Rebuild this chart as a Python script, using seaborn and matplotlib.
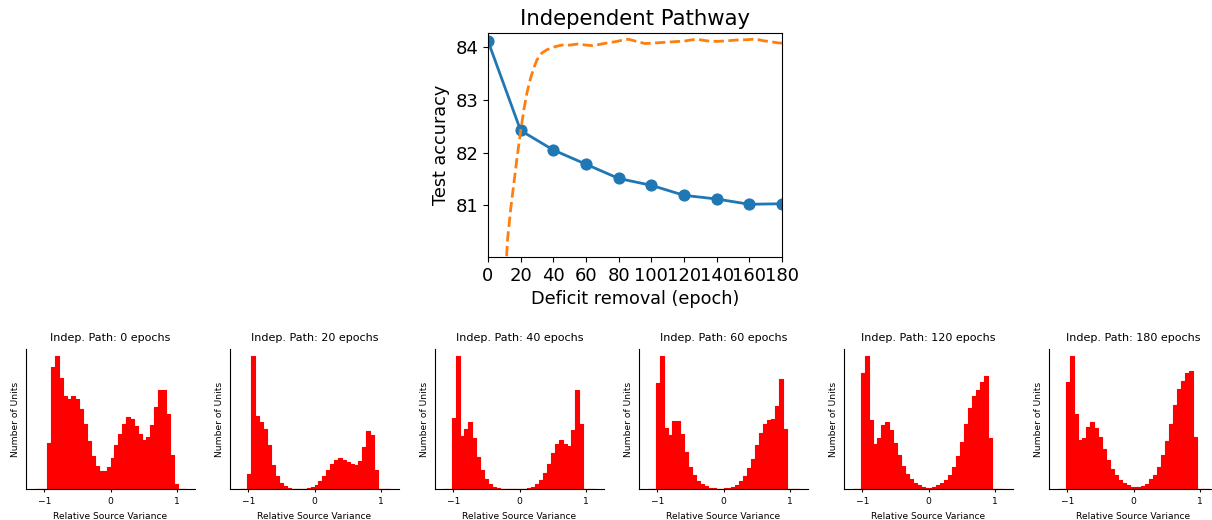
import numpy as np
import pandas as pd
import matplotlib
matplotlib.use("Agg")
import matplotlib.pyplot as plt
import seaborn as sns

# top panel: test accuracy vs epoch of deficit removal
removal_epochs = [0, 20, 40, 60, 80, 100, 120, 140, 160, 180]
removal_acc = [84.12, 82.42, 82.05, 81.78, 81.51, 81.38, 81.19, 81.12, 81.02, 81.03]

train_epochs = [0, 5, 10, 11, 12, 14, 16, 18, 20, 22, 24, 26, 28, 30, 33, 36, 40, 45,
                50, 55, 60, 64, 68, 71, 75, 79, 83, 86, 91, 96, 102, 107, 112, 117,
                121, 125, 128, 134, 140, 146, 150, 154, 158, 162, 166, 169, 174, 178, 180]
train_acc = [60.0, 75.0, 79.3, 79.8, 80.35, 80.95, 81.45, 81.95, 82.4, 82.82, 83.15, 83.4,
             83.6, 83.76, 83.89, 83.95, 84.0, 84.04, 84.04, 84.06, 84.04, 84.03, 84.05,
             84.07, 84.09, 84.11, 84.14, 84.15, 84.11, 84.07, 84.08, 84.09, 84.1, 84.11,
             84.12, 84.14, 84.15, 84.12, 84.11, 84.12, 84.13, 84.14, 84.14, 84.15, 84.14,
             84.12, 84.1, 84.08, 84.08]

# bottom panels: histograms of relative source variance
hist_titles = ["Indep. Path: 0 epochs", "Indep. Path: 20 epochs", "Indep. Path: 40 epochs",
               "Indep. Path: 60 epochs", "Indep. Path: 120 epochs", "Indep. Path: 180 epochs"]
bin_edges = list(np.linspace(-1.15, 1.15, 39))
first_bin = [3, 2, 2, 2, 2, 2]

counts_0 = [140, 370, 403, 335, 280, 271, 280, 271, 243, 198, 145, 100, 70, 53, 53, 68, 95,
            133, 167, 196, 218, 213, 190, 167, 148, 157, 193, 248, 298, 301, 226, 103, 16]
counts_20 = [46, 403, 221, 204, 181, 133, 73, 40, 19, 8, 3, 1, 1, 1, 1, 3, 6, 13, 25, 38,
             56, 75, 88, 93, 89, 83, 77, 73, 85, 127, 175, 163, 58]
counts_40 = [214, 403, 160, 181, 202, 153, 96, 56, 31, 15, 5, 2, 1, 1, 1, 1, 1, 1, 1, 3, 6,
             16, 28, 49, 76, 109, 136, 148, 137, 131, 178, 298, 198]
counts_60 = [322, 403, 184, 163, 207, 205, 167, 112, 68, 43, 25, 15, 8, 4, 3, 1, 1, 3, 3, 6,
             12, 23, 38, 63, 91, 133, 170, 197, 209, 211, 250, 332, 182]
counts_120 = [352, 403, 208, 137, 154, 193, 202, 178, 139, 103, 69, 44, 31, 19, 11, 5, 4, 4,
              7, 12, 19, 27, 43, 67, 100, 142, 196, 244, 280, 298, 325, 343, 154]
counts_180 = [325, 403, 226, 148, 154, 187, 202, 185, 157, 121, 88, 60, 41, 28, 19, 12, 6, 6,
              6, 9, 15, 29, 42, 67, 103, 145, 198, 255, 303, 328, 350, 358, 157]
all_counts = [counts_0, counts_20, counts_40, counts_60, counts_120, counts_180]

fig = plt.figure(figsize=(12.12, 5.2), dpi=100)

ax = fig.add_axes([0.4026, 0.5058, 0.2426, 0.4308])
sns.lineplot(x=removal_epochs, y=removal_acc, marker="o", markersize=8, linewidth=2,
             color="#1f77b4", markeredgecolor="#1f77b4", ax=ax)
sns.lineplot(x=train_epochs, y=train_acc, linestyle="--", linewidth=2, color="#ff7f0e", ax=ax)
ax.set_xlim(0, 180)
ax.set_ylim(80.02, 84.27)
ax.set_xticks(range(0, 181, 20))
ax.set_yticks([81, 82, 83, 84])
ax.tick_params(labelsize=13)
ax.set_title("Independent Pathway", fontsize=15.3)
ax.set_xlabel("Deficit removal (epoch)", fontsize=12.7)
ax.set_ylabel("Test accuracy", fontsize=12.7)

centers = [(a + b) / 2 for a, b in zip(bin_edges[:-1], bin_edges[1:])]
lefts = [26, 230, 435, 639, 844, 1049]
for i, counts in enumerate(all_counts):
    full = np.zeros(len(centers))
    full[first_bin[i]:first_bin[i] + len(counts)] = counts
    df = pd.DataFrame({"variance": centers, "units": full})
    hax = fig.add_axes([lefts[i] / 1212, 0.0596, 169 / 1212, 0.269])
    sns.histplot(data=df, x="variance", weights="units", bins=bin_edges, element="step",
                 fill=True, color="red", alpha=1, linewidth=0.8, edgecolor="red", ax=hax)
    hax.set_xlim(-1.28, 1.28)
    hax.set_xticks([-1, 0, 1])
    hax.set_yticks([])
    hax.spines["top"].set_visible(False)
    hax.spines["right"].set_visible(False)
    hax.tick_params(labelsize=6.6, length=2.5)
    hax.set_title(hist_titles[i], fontsize=8)
    hax.set_xlabel("Relative Source Variance", fontsize=6.6)
    hax.set_ylabel("Number of Units", fontsize=6.6)

fig.savefig("out.png", dpi=100)
